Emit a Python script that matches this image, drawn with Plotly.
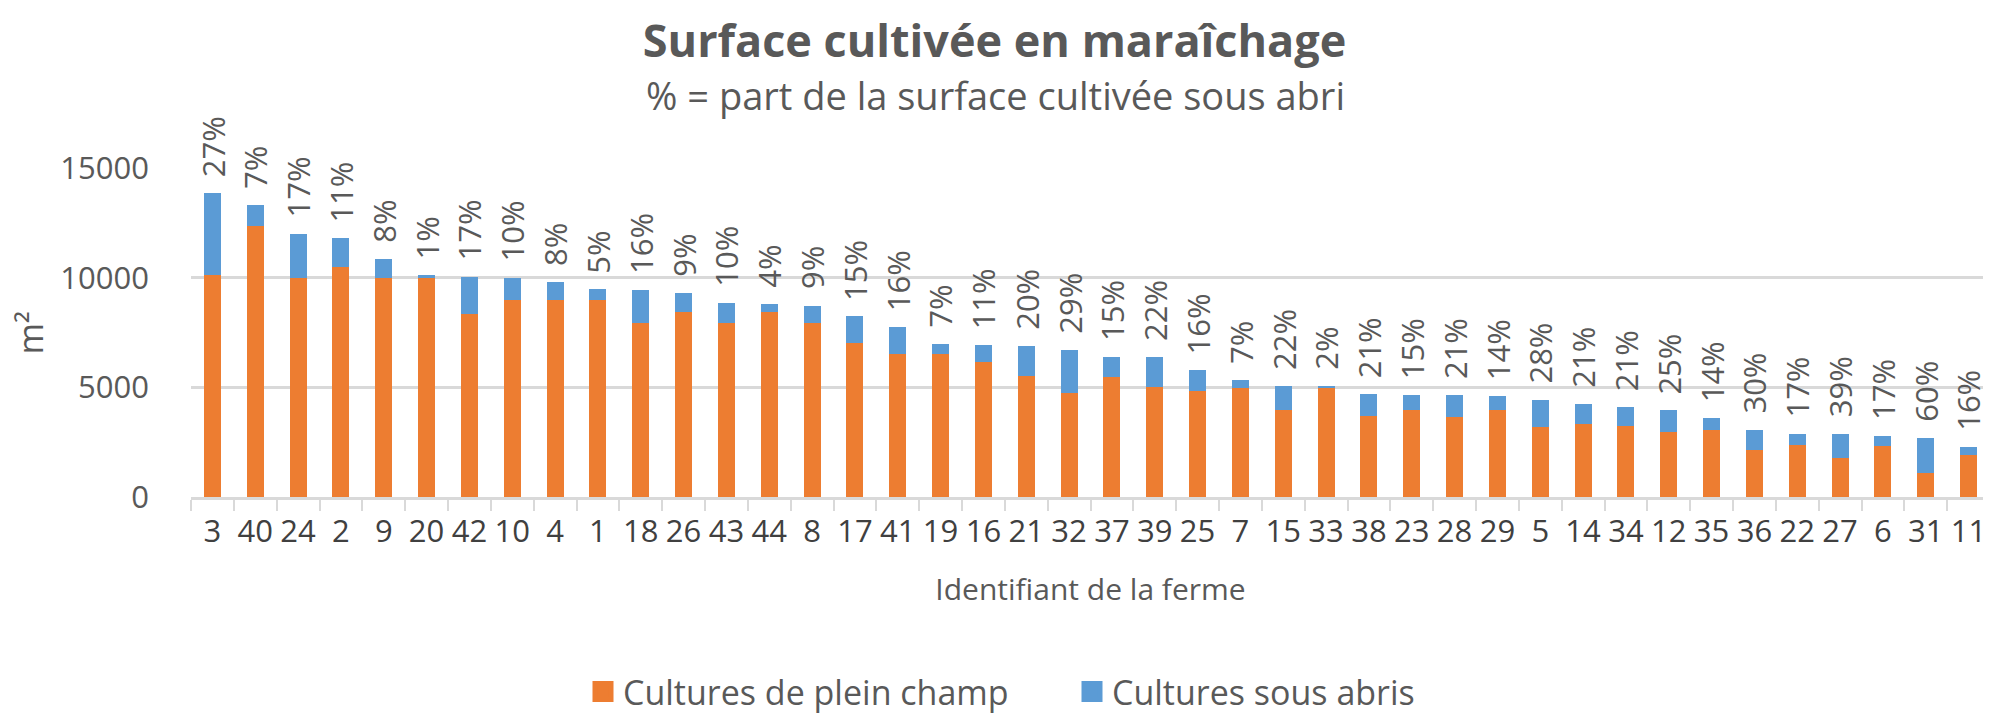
import plotly.graph_objects as go

farms = ["3", "40", "24", "2", "9", "20", "42", "10", "4", "1", "18", "26", "43", "44",
         "8", "17", "41", "19", "16", "21", "32", "37", "39", "25", "7", "15", "33", "38",
         "23", "28", "29", "5", "14", "34", "12", "35", "36", "22", "27", "6", "31", "11"]

plein_champ = [10100, 12350, 10000, 10500, 10000, 10000, 8350, 9000, 9000, 9000, 7950, 8450,
               7950, 8450, 7950, 7000, 6500, 6500, 6150, 5500, 4750, 5450, 5000, 4850, 4950,
               3950, 4950, 3700, 3950, 3650, 3950, 3200, 3350, 3250, 2950, 3070, 2130, 2380,
               1760, 2330, 1080, 1930]

sous_abris = [3750, 950, 2000, 1300, 870, 100, 1700, 1000, 780, 470, 1500, 870, 900, 350,
              780, 1230, 1250, 490, 760, 1380, 1950, 950, 1400, 920, 380, 1100, 100, 1000,
              700, 1000, 640, 1230, 880, 860, 1000, 520, 940, 500, 1130, 470, 1630, 360]

pct_labels = ["27%", "7%", "17%", "11%", "8%", "1%", "17%", "10%", "8%", "5%", "16%", "9%",
              "10%", "4%", "9%", "15%", "16%", "7%", "11%", "20%", "29%", "15%", "22%", "16%",
              "7%", "22%", "2%", "21%", "15%", "21%", "14%", "28%", "21%", "21%", "25%", "14%",
              "30%", "17%", "39%", "17%", "60%", "16%"]

series_names = ["Cultures de plein champ", "Cultures sous abris"]
series_colors = ["#ED7D31", "#5B9BD5"]

y_ticks = [0, 5000, 10000, 15000]

FONT = "Open Sans"
GREY = "#595959"
GRID = "#D9D9D9"

W, H = 1983, 706

fig = go.Figure()
for name, vals, col, lg in zip(series_names, [plein_champ, sous_abris], series_colors,
                               ["legend", "legend2"]):
    fig.add_trace(go.Bar(x=farms, y=vals, name=name, legendgroup=name, showlegend=False,
                         marker=dict(color=col, line=dict(width=0))))
    # legend entry (larger square swatch), linked to the bar series
    fig.add_trace(go.Scatter(x=[None], y=[None], mode="markers", name=name, legendgroup=name,
                             legend=lg, showlegend=True, hoverinfo="skip",
                             marker=dict(symbol="square", size=16, color=col,
                                         line=dict(color=col, width=5))))

totals = [a + b for a, b in zip(plein_champ, sous_abris)]
for i, (t, lab) in enumerate(zip(totals, pct_labels)):
    # category axis: numeric x is the category index of farms[i]
    fig.add_annotation(x=i, y=t, text=lab, textangle=-90, showarrow=False,
                       xanchor="center", yanchor="bottom", yshift=14,
                       font=dict(family=FONT, size=31, color=GREY))

fig.add_annotation(text="% = part de la surface cultivée sous abri", xref="paper", yref="paper",
                   x=0.447, y=1.222, xanchor="center", yanchor="middle", showarrow=False,
                   font=dict(family=FONT, size=38, color=GREY))

fig.add_annotation(text="m²", xref="paper", yref="paper", x=-0.0895, y=0.5, textangle=-90,
                   xanchor="center", yanchor="middle", showarrow=False,
                   font=dict(family=FONT, size=34, color=GREY))

legend_common = dict(orientation="h", xref="container", yref="container", xanchor="left",
                     yanchor="middle", y=1 - 684 / H, itemsizing="trace",
                     font=dict(family=FONT, size=34, color=GREY), bgcolor="rgba(0,0,0,0)")

fig.update_layout(
    width=W, height=H,
    paper_bgcolor="white", plot_bgcolor="white",
    margin=dict(l=183, r=1, t=160, b=217, autoexpand=False),
    barmode="stack", bargap=0.6,
    font=dict(family=FONT, color=GREY),
    title=dict(text="<b>Surface cultivée en maraîchage</b>", x=0.4975, xref="container",
               xanchor="center", y=1 - 33 / H, yref="container", yanchor="middle",
               font=dict(family=FONT, size=45, color=GREY)),
    showlegend=True,
    legend=dict(x=575 / W, **legend_common),
    legend2=dict(x=1064 / W, **legend_common),
    xaxis=dict(type="category", range=[-0.5, len(farms) - 0.5], tickangle=0,
               showline=True, linecolor=GRID, linewidth=2.5,
               ticks="outside", tickson="boundaries", ticklen=11, tickwidth=2, tickcolor=GRID,
               ticklabelstandoff=5,
               tickfont=dict(family=FONT, size=31, color="#404040"),
               title=dict(text="Identifiant de la ferme", standoff=30,
                          font=dict(family=FONT, size=30, color=GREY)),
               showgrid=False, fixedrange=True),
    yaxis=dict(range=[0, 15000], tickvals=y_ticks, ticktext=[str(v) for v in y_ticks],
               showgrid=True, gridcolor=GRID, gridwidth=2.5, zeroline=False, showline=False,
               ticks="", ticklabelstandoff=41,
               tickfont=dict(family=FONT, size=31, color=GREY), fixedrange=True),
)

fig.write_html("out.html")
